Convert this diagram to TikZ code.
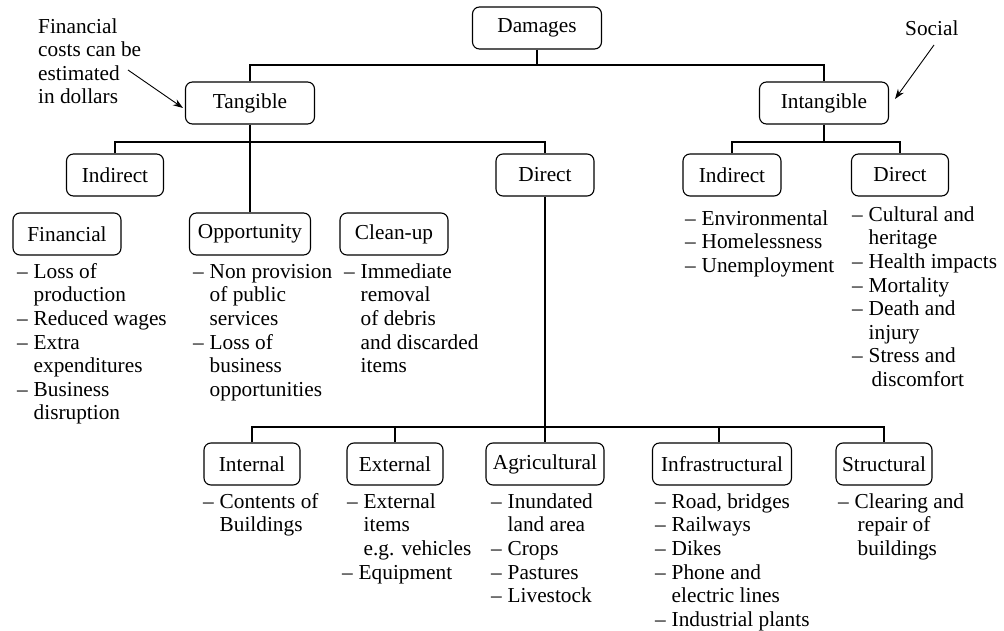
\documentclass[tikz,border=0pt]{standalone}
\usepackage{fontspec}
\setmainfont{Liberation Serif}
\usetikzlibrary{arrows.meta}
\newcommand{\TopStrut}{\rule{0pt}{16pt}}
\newcommand{\DashItem}[1]{\TopStrut\makebox[16.5pt][l]{–}#1}
\newcommand{\DashCont}[1]{\TopStrut\hspace*{16.5pt}#1}
\tikzset{
  every node/.style={font=\fontsize{21.3}{23.6}\selectfont, text=black},
  box/.style={draw, line width=1.1pt, rounded corners=7pt, minimum height=42pt, inner sep=0pt},
  list/.style={align=left, anchor=north west, inner sep=0pt},
  note/.style={align=left, anchor=north west, inner sep=0pt},
  link/.style={line width=1.1pt},
  arr/.style={line width=0.9pt, -{Stealth[length=10pt,width=7pt]}}
}
\begin{document}
\begin{tikzpicture}[x=1pt,y=-1pt]
\useasboundingbox (0,0) rectangle (1004,631);
% boxes
\node[box, minimum width=129pt] (dam) at (537,28) {Damages};
\node[box, minimum width=129pt] (tan) at (250,103) {Tangible};
\node[box, minimum width=129pt] (intan) at (824,103) {Intangible};
\node[box, minimum width=97pt] (indA) at (115,175) {Indirect};
\node[box, minimum width=98pt] (dirA) at (545,175) {Direct};
\node[box, minimum width=98pt] (indB) at (732,175) {Indirect};
\node[box, minimum width=97pt] (dirB) at (900,175) {Direct};
\node[box, minimum width=108pt] (fin) at (67,234) {Financial};
\node[box, minimum width=121pt] (opp) at (250,234) {Opportunity};
\node[box, minimum width=108pt] (cln) at (394,234) {Clean-up};
\node[box, minimum width=96pt] (int) at (252,464) {Internal};
\node[box, minimum width=96pt] (ext) at (395,464) {External};
\node[box, minimum width=118pt] (agr) at (545,464) {Agricultural};
\node[box, minimum width=139pt] (inf) at (722,464) {Infrastructural};
\node[box, minimum width=96pt] (str) at (884,464) {Structural};
% bus coordinates
\coordinate (b1) at (537,65);
\coordinate (b2) at (250,142);
\coordinate (b3) at (824,142);
\coordinate (b4) at (545,427);
% connectors
\draw[link] (dam.south) -- (b1);
\draw[link] (tan.north) |- (b1) -| (intan.north);
\draw[link] (tan.south) -- (opp.north);
\draw[link] (indA.north) |- (b2) -| (dirA.north);
\draw[link] (intan.south) -- (b3);
\draw[link] (indB.north) |- (b3) -| (dirB.north);
\draw[link] (dirA.south) -- (agr.north);
\draw[link] (int.north) |- (b4) -| (str.north);
\draw[link] (ext.north) |- (b4);
\draw[link] ([xshift=-3pt]inf.north) |- (b4);
% lists (top = first baseline - 16)
\node[list] (finL) at (17,262) {\DashItem{Loss of}\\\DashCont{production}\\\DashItem{Reduced wages}\\\DashItem{Extra}\\\DashCont{expenditures}\\\DashItem{Business}\\\DashCont{disruption}};
\node[list] (oppL) at (193,262) {\DashItem{Non provision}\\\DashCont{of public}\\\DashCont{services}\\\DashItem{Loss of}\\\DashCont{business}\\\DashCont{opportunities}};
\node[list] (clnL) at (344,262) {\DashItem{Immediate}\\\DashCont{removal}\\\DashCont{of debris}\\\DashCont{and discarded}\\\DashCont{items}};
\node[list] (indBL) at (685,209) {\DashItem{Environmental}\\\DashItem{Homelessness}\\\DashItem{Unemployment}};
\node[list] (dirBL) at (852,205) {\DashItem{Cultural and}\\\DashCont{heritage}\\\DashItem{Health impacts}\\\DashItem{Mortality}\\\DashItem{Death and}\\\DashCont{injury}\\\DashItem{Stress and}\\\DashCont{\hspace*{3pt}discomfort}};
\node[list] (intL) at (203,492) {\DashItem{Contents of}\\\DashCont{Buildings}};
\node[list] (extL) at (347,492) {\DashItem{External}\\\DashCont{items}\\\DashCont{e.g. vehicles}\\\hspace*{-5pt}\DashItem{Equipment}};
\node[list] (agrL) at (491,492) {\DashItem{Inundated}\\\DashCont{land area}\\\DashItem{Crops}\\\DashItem{Pastures}\\\DashItem{Livestock}};
\node[list] (infL) at (655,492) {\DashItem{Road, bridges}\\\DashItem{Railways}\\\DashItem{Dikes}\\\DashItem{Phone and}\\\DashCont{electric lines}\\\DashItem{Industrial plants}};
\node[list] (strL) at (838,492) {\DashItem{Clearing and}\\\DashCont{\hspace*{3pt}repair of}\\\DashCont{\hspace*{3pt}buildings}};
% annotations
\node[note] (noteA) at (38,17) {\TopStrut Financial\\\TopStrut costs can be\\\TopStrut estimated\\\TopStrut in dollars};
\node[note] (noteB) at (905,19) {\TopStrut Social};
\coordinate (a1s) at (128,70);
\coordinate (a1e) at (183,108);
\coordinate (a2s) at (934,45);
\coordinate (a2e) at (895,99);
\draw[arr] (a1s) -- (a1e);
\draw[arr] (a2s) -- (a2e);
\end{tikzpicture}
\end{document}
